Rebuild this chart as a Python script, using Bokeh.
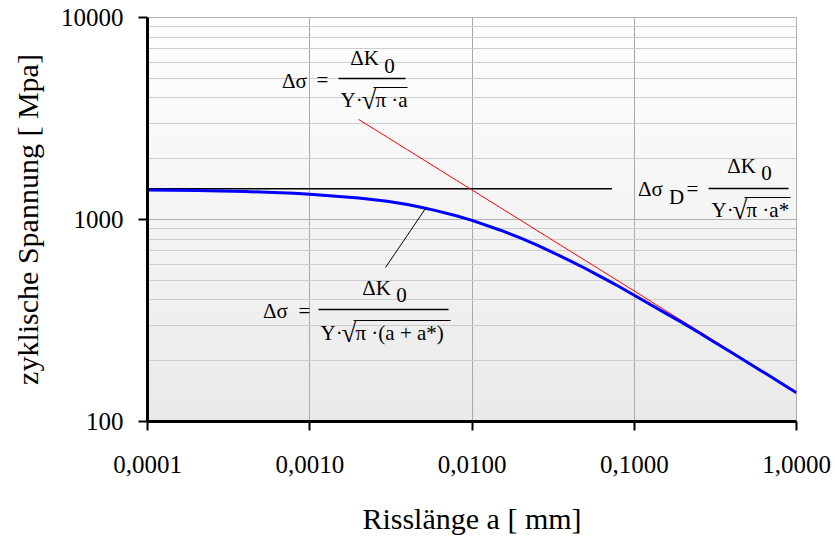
import numpy as np
from bokeh.plotting import figure
from bokeh.models import FixedTicker, Label
from bokeh.embed import file_html
from bokeh.resources import INLINE

# ---------------- data ----------------
crack_blue = [0.0001, 0.0002, 0.0004, 0.0006, 0.0008, 0.001, 0.002, 0.003, 0.004,
              0.005, 0.006, 0.008, 0.01, 0.015, 0.02, 0.025, 0.03, 0.04, 0.05,
              0.06, 0.07, 0.08, 0.1, 0.15, 0.2, 0.25, 0.3, 0.4, 0.5, 0.6, 0.7,
              0.8, 0.9, 1.0]
stress_blue = [1400, 1390, 1375, 1360, 1347, 1335, 1278, 1231, 1187,
               1143, 1106, 1043, 990, 885, 808, 749, 700, 626, 572,
               529, 495, 467, 422, 350, 307, 276, 252, 219, 196, 179, 166,
               155, 146, 139]
crack_red = [0.002, 0.003, 0.004, 0.005, 0.006, 0.008, 0.01, 0.015, 0.02,
             0.025, 0.03, 0.04, 0.05, 0.06, 0.07, 0.08, 0.1, 0.15, 0.2, 0.25,
             0.3, 0.4, 0.5, 0.6, 0.7, 0.8, 0.9, 1.0]
stress_red = [3130, 2556, 2214, 1980, 1807, 1565, 1400, 1143, 990,
              885, 808, 700, 626, 572, 529, 495, 443, 361, 313, 280,
              256, 221, 198, 181, 167, 157, 148, 140]
crack_black = [0.0001, 0.073]
stress_black = [1420, 1420]

x_ticks = [0.0001, 0.001, 0.01, 0.1, 1.0]
x_tick_labels = ["0,0001", "0,0010", "0,0100", "0,1000", "1,0000"]
y_ticks = [100, 1000, 10000]
y_tick_labels = ["100", "1000", "10000"]
y_minor = [200, 300, 400, 500, 600, 700, 800, 900,
           2000, 3000, 4000, 5000, 6000, 7000, 8000, 9000]

FONT = "Liberation Serif"

# frame geometry (pixels)
L, R, T, B = 147, 796, 17, 421

p = figure(width=835, height=539, x_axis_type="log", y_axis_type="log",
           x_range=(1e-4, 1.0), y_range=(100, 10000),
           output_backend="svg", toolbar_location=None,
           min_border_left=L, min_border_right=835 - R,
           min_border_top=T, min_border_bottom=539 - B)
p.background_fill_color = "white"
p.border_fill_color = "white"
p.outline_line_color = "#9a9a9a"
p.outline_line_width = 1


def at(px, py):
    """pixel position inside the window -> data coordinates (annotations only)"""
    return (10 ** (-4 + (px - L) / ((R - L) / 4.0)),
            10 ** (4 - (py - T) / ((B - T) / 2.0)))


# background gradient (white at top -> light grey at bottom)
n = 200
g = np.linspace(234, 255, n).astype(np.uint32)  # row 0 = bottom
img = np.empty((n, 1), dtype=np.uint32)
view = img.view(dtype=np.uint8).reshape((n, 1, 4))
view[:, 0, 0] = g
view[:, 0, 1] = g
view[:, 0, 2] = g
view[:, 0, 3] = 255
ir = p.image_rgba(image=[img], x=1e-4, y=100, dw=1.0 - 1e-4, dh=10000 - 100)
ir.level = "image"

# axes / ticks
p.xaxis.ticker = FixedTicker(ticks=x_ticks)
p.xaxis.major_label_overrides = {t: s for t, s in zip(x_ticks, x_tick_labels)}
p.yaxis.ticker = FixedTicker(ticks=y_ticks, minor_ticks=y_minor)
p.yaxis.major_label_overrides = {t: s for t, s in zip(y_ticks, y_tick_labels)}
p.xgrid.ticker = FixedTicker(ticks=x_ticks)

for ax in (p.xaxis, p.yaxis):
    ax.axis_line_color = "black"
    ax.axis_line_width = 3
    ax.major_tick_line_color = "black"
    ax.major_tick_line_width = 2
    ax.major_tick_out = 9
    ax.major_tick_in = 0
    ax.minor_tick_line_color = None
    ax.major_label_text_font = FONT
    ax.major_label_text_font_size = "25px"
    ax.major_label_text_color = "black"
    ax.axis_label_text_font = FONT
    ax.axis_label_text_font_size = "30px"
    ax.axis_label_text_font_style = "normal"
    ax.axis_label_text_color = "black"

p.xaxis.axis_label = "Risslänge a [ mm]"
p.yaxis.axis_label = "zyklische Spannung [ Mpa]"
p.xaxis.major_label_standoff = 25
p.yaxis.major_label_standoff = 15
p.xaxis.axis_label_standoff = 26
p.yaxis.axis_label_standoff = 14

p.xgrid.grid_line_color = "#a8a8a8"
p.xgrid.grid_line_width = 1
p.ygrid.grid_line_color = "#b0b0b0"
p.ygrid.grid_line_width = 1
p.ygrid.minor_grid_line_color = "#cdcdcd"
p.ygrid.minor_grid_line_width = 1

# series
p.line(crack_black, stress_black, line_color="black", line_width=1.5)
p.line(crack_red, stress_red, line_color="#ff0000", line_width=1)
p.line(crack_blue, stress_blue, line_color="#0000ff", line_width=3)

# leader line to the blue curve
x0, y0 = at(425, 208)
x1, y1 = at(385, 267)
p.line([x0, x1], [y0, y1], line_color="black", line_width=1)


def lab(px, py, text, size="21px", align="center"):
    x, y = at(px, py)
    p.add_layout(Label(x=x, y=y, text=text, text_font=FONT, text_font_size=size,
                       text_align=align, text_baseline="middle", text_color="black"))


def hline(pxa, pxb, py, w=1.5):
    xa, y = at(pxa, py)
    xb, _ = at(pxb, py)
    p.line([xa, xb], [y, y], line_color="black", line_width=w)


# formula 1 (upper)
lab(294, 80, "Δσ")
lab(322, 79, "=")
hline(338, 405, 78)
lab(364, 57, "ΔK")
lab(389, 65, "0")
lab(340, 99, "Y·", align="left")
lab(361, 99, "√", size="27px", align="left")
lab(375, 99, "π ·a", align="left")
hline(373, 407, 87, 1)

# formula 2 (right)
lab(650, 188, "Δσ")
lab(676, 196, "D")
lab(692, 188, "=")
hline(708, 788, 188)
lab(741, 165, "ΔK")
lab(766, 172, "0")
lab(711, 209, "Y·", align="left")
lab(732, 209, "√", size="27px", align="left")
lab(746, 209, "π ·a*", align="left")
hline(744, 790, 197, 1)

# formula 3 (lower)
lab(275, 310, "Δσ")
lab(304, 310, "=")
hline(318, 448, 309)
lab(376, 287, "ΔK")
lab(401, 294, "0")
lab(320, 332, "Y·", align="left")
lab(341, 332, "√", size="27px", align="left")
lab(355, 332, "π ·(a + a*)", align="left")
hline(353, 450, 320, 1)

open("out.html", "w").write(file_html(p, INLINE))
